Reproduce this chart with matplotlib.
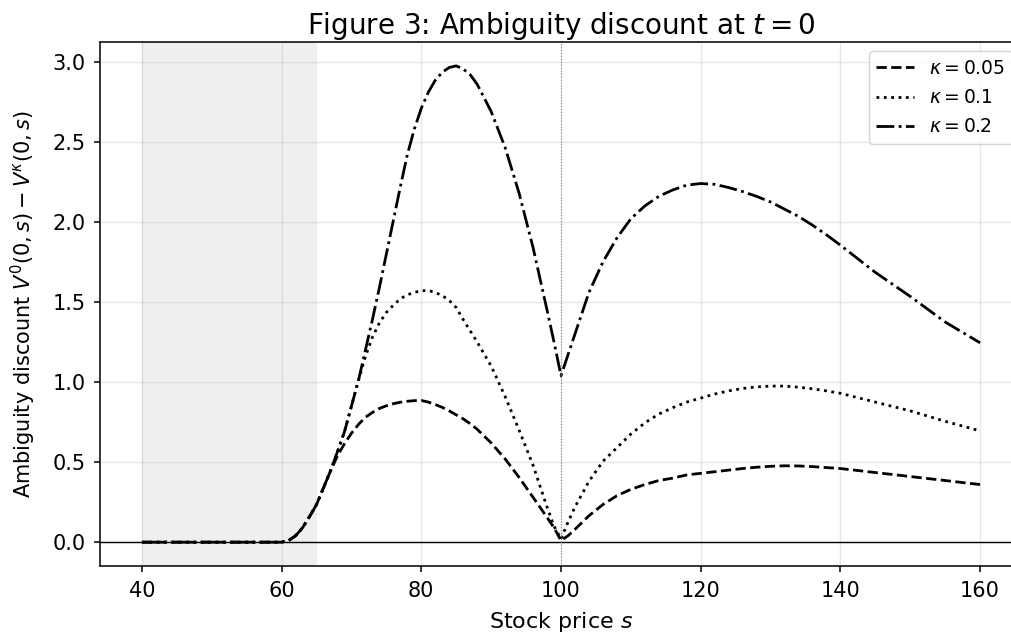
import numpy as np
import matplotlib.pyplot as plt

# stock price grid
s = [40, 45, 50, 55, 60, 61, 62, 63, 64, 65, 66, 67, 68, 69, 70, 71, 72, 73, 74, 75, 76, 77, 78,
     79, 80, 81, 82, 83, 84, 85, 86, 87, 88, 90, 92, 94, 96, 98, 99, 100, 101, 102, 104, 106, 108,
     110, 112, 114, 116, 118, 120, 122, 124, 126, 128, 130, 132, 134, 136, 138, 140,
     145, 150, 155, 160]

# ambiguity discount V^0 - V^kappa
disc_005 = [0, 0, 0, 0, 0, 0.01, 0.04, 0.09, 0.16, 0.235, 0.34, 0.445, 0.54, 0.615, 0.68, 0.735, 0.78, 0.81, 0.835,
            0.852, 0.865, 0.874, 0.88,
            0.884, 0.885, 0.875, 0.86, 0.842, 0.82, 0.795, 0.77, 0.74, 0.705, 0.62, 0.52, 0.405, 0.28, 0.155, 0.09, 0.01,
            0.04, 0.08, 0.165, 0.235, 0.29,
            0.33, 0.36, 0.385, 0.40, 0.42, 0.43, 0.44, 0.45, 0.46, 0.468, 0.474, 0.477, 0.476, 0.472, 0.466, 0.46,
            0.435, 0.41, 0.385, 0.36]
disc_01 = [0, 0, 0, 0, 0, 0.01, 0.04, 0.09, 0.16, 0.235, 0.34, 0.445, 0.565, 0.69, 0.85, 1.01, 1.16, 1.28, 1.37,
           1.435, 1.48, 1.52, 1.545,
           1.56, 1.57, 1.572, 1.56, 1.54, 1.51, 1.465, 1.39, 1.32, 1.25, 1.10, 0.91, 0.70, 0.48, 0.22, 0.10, 0.02,
           0.125, 0.22, 0.38, 0.505, 0.59,
           0.675, 0.745, 0.80, 0.84, 0.875, 0.90, 0.925, 0.945, 0.96, 0.97, 0.975, 0.975, 0.968, 0.958, 0.945, 0.93,
           0.875, 0.82, 0.755, 0.695]
disc_02 = [0, 0, 0, 0, 0, 0.01, 0.04, 0.09, 0.16, 0.235, 0.34, 0.445, 0.565, 0.69, 0.85, 1.01, 1.20, 1.39, 1.59,
           1.80, 2.01, 2.22, 2.42,
           2.58, 2.71, 2.81, 2.885, 2.935, 2.965, 2.975, 2.955, 2.92, 2.86, 2.69, 2.465, 2.18, 1.84, 1.45, 1.25, 1.04,
           1.17, 1.30, 1.56, 1.75, 1.90,
           2.02, 2.10, 2.16, 2.20, 2.23, 2.24, 2.235, 2.215, 2.19, 2.16, 2.125, 2.08, 2.035, 1.98, 1.92, 1.855,
           1.685, 1.535, 1.375, 1.245]

kappas = ['0.05', '0.1', '0.2']
styles = ['--', ':', '-.']

fig = plt.figure(figsize=(10.11, 6.39), dpi=100)
ax = fig.add_axes([100/1011, 73/639, 922/1011, 524/639])

ax.axvspan(40, 65, color='#d9d9d9', alpha=0.4, lw=0)
for d, k, ls in zip([disc_005, disc_01, disc_02], kappas, styles):
    ax.plot(s, d, color='black', ls=ls, lw=2, label=r'$\kappa = %s$' % k)
ax.axhline(0, color='black', lw=1)
ax.axvline(100, color='gray', ls=':', lw=0.8)

ax.set_xlim(34, 166)
ax.set_ylim(-0.1488, 3.124)
ax.grid(True, alpha=0.3, lw=1)
for sp in ax.spines.values():
    sp.set_linewidth(1.1)
ax.tick_params(labelsize=15, length=4.5, width=1.1, pad=6)
ax.set_xlabel('Stock price $s$', fontsize=16, labelpad=7)
ax.set_ylabel(r'Ambiguity discount $V^0(0,s) - V^\kappa(0,s)$', fontsize=15, labelpad=10)
ax.set_title('Figure 3: Ambiguity discount at $t = 0$', fontsize=20)
ax.legend(loc='upper right', fontsize=13.5, labelspacing=0.55)

fig.savefig('out.png', dpi=100)
